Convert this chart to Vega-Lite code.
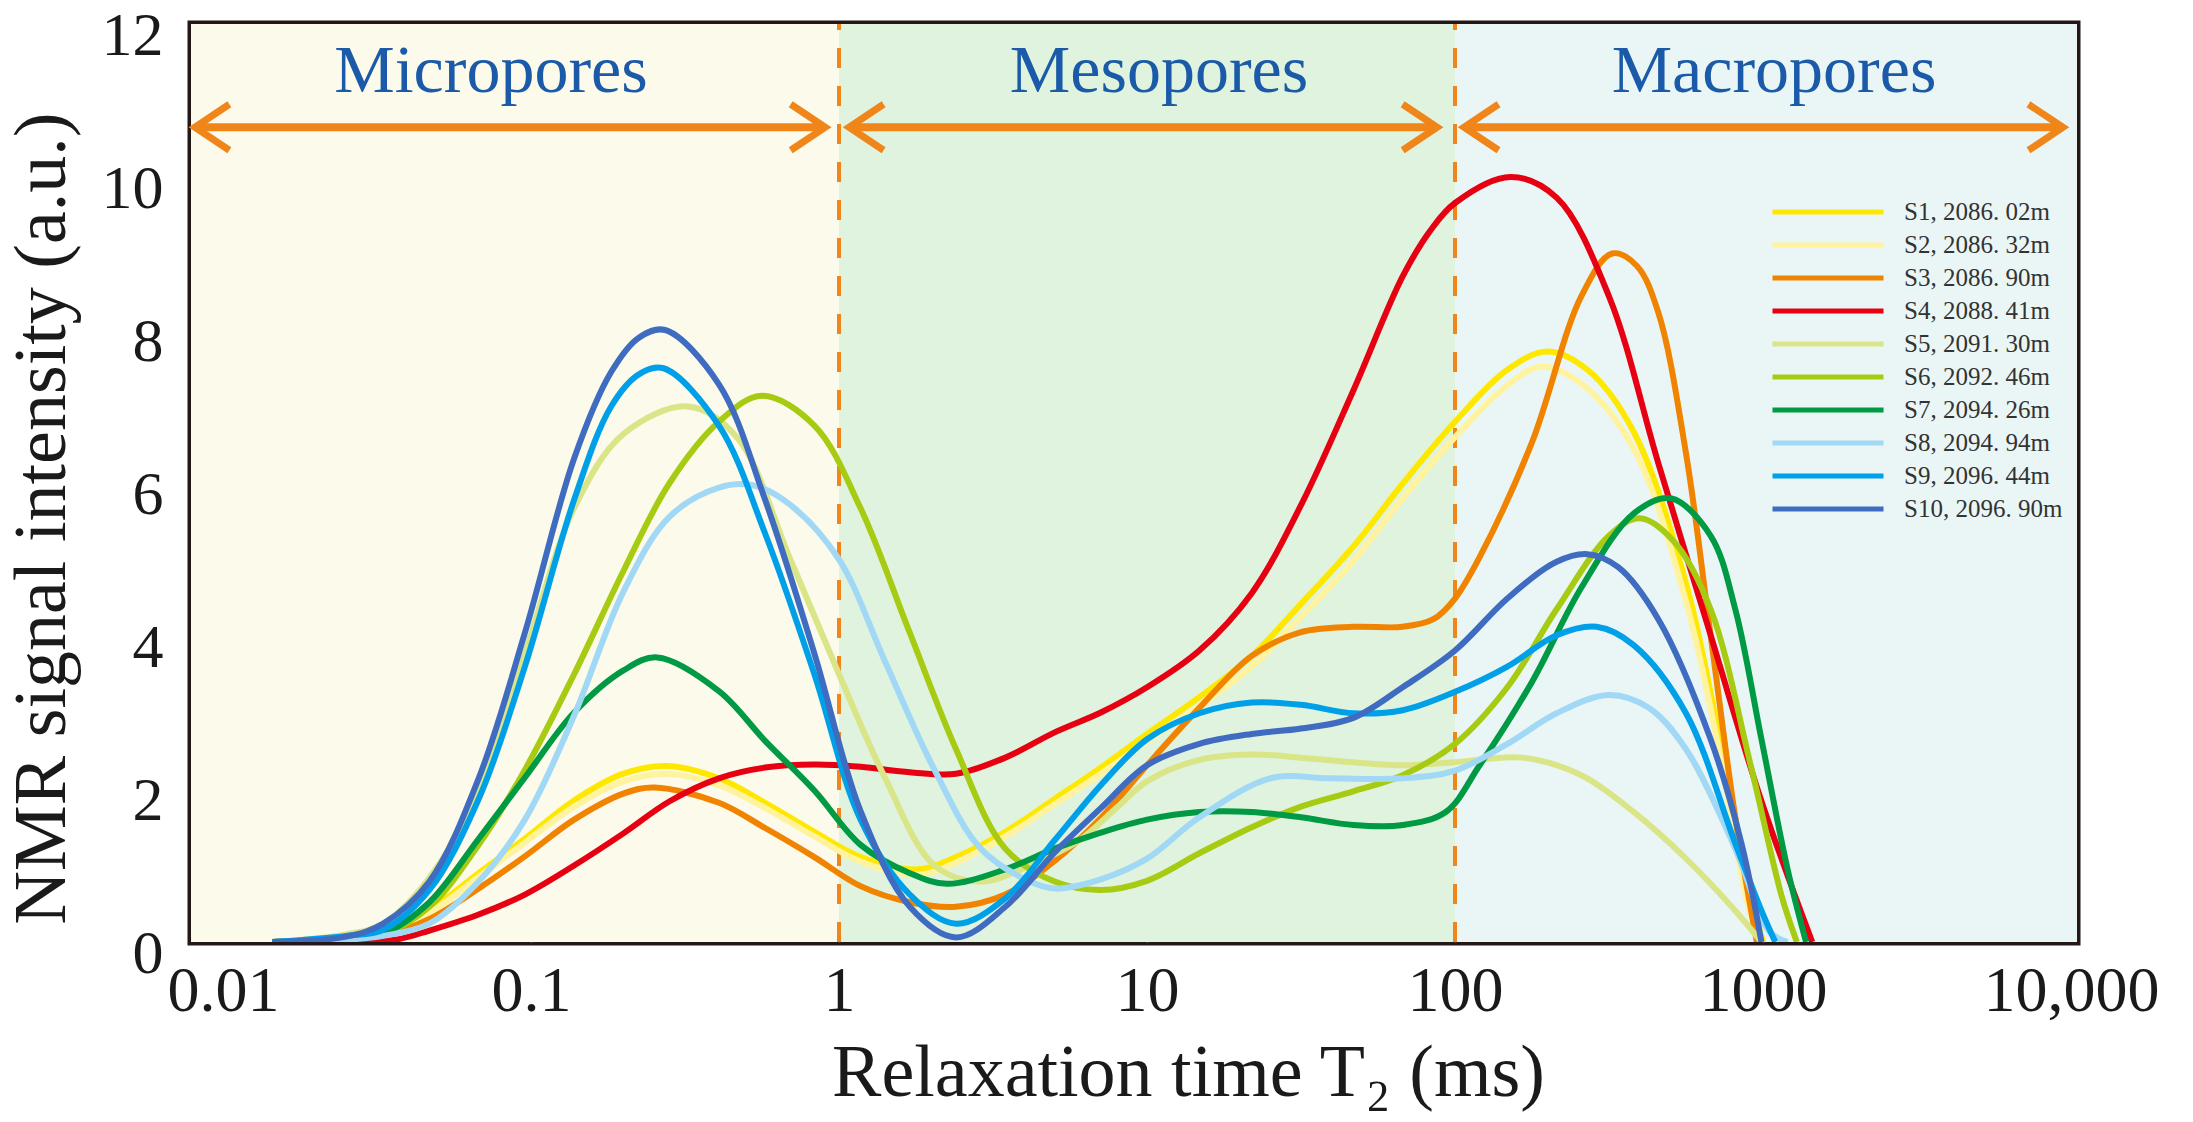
{
  "$schema": "https://vega.github.io/schema/vega-lite/v6.json",
  "width": 1886,
  "height": 918,
  "autosize": {"type": "none"},
  "padding": {"left": 191, "top": 24, "right": 116, "bottom": 180},
  "background": "#ffffff",
  "config": {
    "view": {"stroke": "#231815", "strokeWidth": 7},
    "legend": {
      "orient": "none",
      "legendX": 1623,
      "legendY": 174,
      "title": null,
      "padding": 0,
      "symbolType": "M-5,0H5",
      "symbolSize": 493,
      "symbolStrokeWidth": 5,
      "labelOffset": 62,
      "labelFont": "Liberation Serif",
      "labelFontSize": 25,
      "labelColor": "#333333",
      "labelLimit": 400,
      "rowPadding": 6
    }
  },
  "encoding": {
    "x": {
      "field": "t",
      "type": "quantitative",
      "scale": {"type": "log", "domain": [0.00787, 10460], "nice": false},
      "axis": {
        "orient": "bottom",
        "values": [0.01, 0.1, 1, 10, 100, 1000, 10000],
        "labelExpr": "datum.value < 0.05 ? '0.01' : datum.value < 0.5 ? '0.1' : datum.value < 5 ? '1' : datum.value < 50 ? '10' : datum.value < 500 ? '100' : datum.value < 5000 ? '1000' : '10,000'",
        "labelFont": "Liberation Serif",
        "labelFontSize": 64,
        "labelColor": "#1a1a1a",
        "labelBaseline": "alphabetic",
        "labelPadding": 100,
        "labelFlush": false,
        "labelOverlap": false,
        "labelBound": false,
        "tickSize": -32,
        "tickWidth": 2.5,
        "tickColor": "#595757",
        "tickOpacity": {"condition": {"test": "datum.value < 0.05 || datum.value > 5000", "value": 0}, "value": 1},
        "domain": false,
        "grid": false,
        "title": "Relaxation time T₂ (ms)",
        "titleFont": "Liberation Serif",
        "titleFontSize": 74,
        "titleFontWeight": "normal",
        "titleColor": "#1a1a1a",
        "titleX": 997,
        "titleY": 153,
        "titleBaseline": "alphabetic"
      }
    },
    "y": {
      "field": "v",
      "type": "quantitative",
      "scale": {"domain": [0, 12], "nice": false},
      "axis": {
        "orient": "left",
        "values": [0, 2, 4, 6, 8, 10, 12],
        "labelFont": "Liberation Serif",
        "labelFontSize": 62,
        "labelColor": "#1a1a1a",
        "labelPadding": 60,
        "labelOffset": 11,
        "labelOverlap": false,
        "labelFlush": false,
        "labelBound": false,
        "tickSize": -32,
        "tickWidth": 2.5,
        "tickColor": "#595757",
        "tickOpacity": {"condition": {"test": "datum.value < 1 || datum.value > 11", "value": 0}, "value": 1},
        "domain": false,
        "grid": false,
        "title": "NMR signal intensity (a.u.)",
        "titleFont": "Liberation Serif",
        "titleFontSize": 74,
        "titleFontWeight": "normal",
        "titleColor": "#1a1a1a",
        "titleX": -127,
        "titleY": 494,
        "titleBaseline": "alphabetic"
      }
    }
  },
  "layer": [
    {
      "data": {"values": [
        {"r": "Micropores", "t": 0.00787, "t2": 1, "v": 0, "v2": 12},
        {"r": "Mesopores", "t": 1, "t2": 100, "v": 0, "v2": 12},
        {"r": "Macropores", "t": 100, "t2": 10460, "v": 0, "v2": 12}
      ]},
      "mark": {"type": "rect"},
      "encoding": {
        "x2": {"field": "t2"},
        "y2": {"field": "v2"},
        "fill": {"field": "r", "type": "nominal", "scale": {"domain": ["Micropores", "Mesopores", "Macropores"], "range": ["#FCFAEB", "#E0F3DE", "#EAF6F5"]}, "legend": null}
      }
    },
    {
      "data": {"values": [
        {"t": 1, "v": 0, "v2": 12},
        {"t": 100, "v": 0, "v2": 12}
      ]},
      "mark": {"type": "rule", "color": "#F08519", "strokeWidth": 4, "strokeDash": [20, 18]},
      "encoding": {"y2": {"field": "v2"}}
    },
    {
      "data": {"values": [
        {"t": 0.0081, "t2": 0.902, "v": 10.65},
        {"t": 1.078, "t2": 87.5, "v": 10.65},
        {"t": 107, "t2": 9420, "v": 10.65}
      ]},
      "mark": {"type": "rule", "color": "#F08519", "strokeWidth": 8},
      "encoding": {"x2": {"field": "t2"}}
    },
    {
      "data": {"values": [
        {"t": 0.0081, "v": 10.65, "dir": "left"},
        {"t": 0.902, "v": 10.65, "dir": "right"},
        {"t": 1.078, "v": 10.65, "dir": "left"},
        {"t": 87.5, "v": 10.65, "dir": "right"},
        {"t": 107, "v": 10.65, "dir": "left"},
        {"t": 9420, "v": 10.65, "dir": "right"}
      ]},
      "mark": {"type": "point", "filled": false, "color": "#F08519", "strokeWidth": 7, "size": 2116, "opacity": 1, "strokeJoin": "miter"},
      "encoding": {
        "shape": {"field": "dir", "type": "nominal", "scale": {"domain": ["left", "right"], "range": ["M1.5,-1L0,0L1.5,1", "M-1.5,-1L0,0L-1.5,1"]}, "legend": null}
      }
    },
    {
      "data": {"values": [
        {"s":"S1, 2086. 02m","t":0.01445,"v":0},{"s":"S1, 2086. 02m","t":0.02512,"v":0.05},{"s":"S1, 2086. 02m","t":0.03311,"v":0.11},{"s":"S1, 2086. 02m","t":0.04677,"v":0.42},{"s":"S1, 2086. 02m","t":0.06761,"v":0.9},{"s":"S1, 2086. 02m","t":0.0955,"v":1.35},{"s":"S1, 2086. 02m","t":0.138,"v":1.85},{"s":"S1, 2086. 02m","t":0.1995,"v":2.2},{"s":"S1, 2086. 02m","t":0.2754,"v":2.3},{"s":"S1, 2086. 02m","t":0.4074,"v":2.14},{"s":"S1, 2086. 02m","t":0.5754,"v":1.82},{"s":"S1, 2086. 02m","t":0.8318,"v":1.44},{"s":"S1, 2086. 02m","t":1.175,"v":1.11},{"s":"S1, 2086. 02m","t":1.82,"v":0.95},{"s":"S1, 2086. 02m","t":2.399,"v":1.11},{"s":"S1, 2086. 02m","t":3.467,"v":1.44},{"s":"S1, 2086. 02m","t":5.012,"v":1.87},{"s":"S1, 2086. 02m","t":7.079,"v":2.28},{"s":"S1, 2086. 02m","t":10,"v":2.72},{"s":"S1, 2086. 02m","t":14.79,"v":3.2},{"s":"S1, 2086. 02m","t":21.88,"v":3.74},{"s":"S1, 2086. 02m","t":31.62,"v":4.42},{"s":"S1, 2086. 02m","t":46.77,"v":5.17},{"s":"S1, 2086. 02m","t":67.61,"v":5.99},{"s":"S1, 2086. 02m","t":100,"v":6.8},{"s":"S1, 2086. 02m","t":147.9,"v":7.48},{"s":"S1, 2086. 02m","t":199.5,"v":7.72},{"s":"S1, 2086. 02m","t":269.2,"v":7.48},{"s":"S1, 2086. 02m","t":380.2,"v":6.67},{"s":"S1, 2086. 02m","t":562.3,"v":4.69},{"s":"S1, 2086. 02m","t":724.4,"v":2.65},{"s":"S1, 2086. 02m","t":912,"v":0.61},{"s":"S1, 2086. 02m","t":1000,"v":0},
        {"s":"S2, 2086. 32m","t":0.01445,"v":0},{"s":"S2, 2086. 32m","t":0.02512,"v":0.05},{"s":"S2, 2086. 32m","t":0.03311,"v":0.1},{"s":"S2, 2086. 32m","t":0.04677,"v":0.38},{"s":"S2, 2086. 32m","t":0.06761,"v":0.85},{"s":"S2, 2086. 32m","t":0.0955,"v":1.3},{"s":"S2, 2086. 32m","t":0.138,"v":1.77},{"s":"S2, 2086. 32m","t":0.1995,"v":2.1},{"s":"S2, 2086. 32m","t":0.2754,"v":2.2},{"s":"S2, 2086. 32m","t":0.4074,"v":2.05},{"s":"S2, 2086. 32m","t":0.5754,"v":1.75},{"s":"S2, 2086. 32m","t":0.8318,"v":1.38},{"s":"S2, 2086. 32m","t":1.175,"v":1.05},{"s":"S2, 2086. 32m","t":1.82,"v":0.88},{"s":"S2, 2086. 32m","t":2.399,"v":1.04},{"s":"S2, 2086. 32m","t":3.467,"v":1.38},{"s":"S2, 2086. 32m","t":5.012,"v":1.8},{"s":"S2, 2086. 32m","t":7.079,"v":2.2},{"s":"S2, 2086. 32m","t":10,"v":2.62},{"s":"S2, 2086. 32m","t":14.79,"v":3.08},{"s":"S2, 2086. 32m","t":21.88,"v":3.6},{"s":"S2, 2086. 32m","t":31.62,"v":4.25},{"s":"S2, 2086. 32m","t":46.77,"v":4.98},{"s":"S2, 2086. 32m","t":67.61,"v":5.8},{"s":"S2, 2086. 32m","t":100,"v":6.6},{"s":"S2, 2086. 32m","t":147.9,"v":7.28},{"s":"S2, 2086. 32m","t":190.5,"v":7.52},{"s":"S2, 2086. 32m","t":257,"v":7.3},{"s":"S2, 2086. 32m","t":380.2,"v":6.45},{"s":"S2, 2086. 32m","t":562.3,"v":4.45},{"s":"S2, 2086. 32m","t":724.4,"v":2.45},{"s":"S2, 2086. 32m","t":891.3,"v":0.5},{"s":"S2, 2086. 32m","t":977.2,"v":0},
        {"s":"S3, 2086. 90m","t":0.01445,"v":0},{"s":"S3, 2086. 90m","t":0.02512,"v":0.04},{"s":"S3, 2086. 90m","t":0.03311,"v":0.08},{"s":"S3, 2086. 90m","t":0.04677,"v":0.3},{"s":"S3, 2086. 90m","t":0.06761,"v":0.7},{"s":"S3, 2086. 90m","t":0.0955,"v":1.12},{"s":"S3, 2086. 90m","t":0.138,"v":1.6},{"s":"S3, 2086. 90m","t":0.1995,"v":1.94},{"s":"S3, 2086. 90m","t":0.2512,"v":2.02},{"s":"S3, 2086. 90m","t":0.4074,"v":1.82},{"s":"S3, 2086. 90m","t":0.5754,"v":1.49},{"s":"S3, 2086. 90m","t":0.8318,"v":1.11},{"s":"S3, 2086. 90m","t":1.175,"v":0.73},{"s":"S3, 2086. 90m","t":1.698,"v":0.52},{"s":"S3, 2086. 90m","t":2.399,"v":0.46},{"s":"S3, 2086. 90m","t":3.467,"v":0.62},{"s":"S3, 2086. 90m","t":5.012,"v":1.06},{"s":"S3, 2086. 90m","t":7.079,"v":1.62},{"s":"S3, 2086. 90m","t":10,"v":2.31},{"s":"S3, 2086. 90m","t":14.79,"v":3.06},{"s":"S3, 2086. 90m","t":21.88,"v":3.74},{"s":"S3, 2086. 90m","t":31.62,"v":4.05},{"s":"S3, 2086. 90m","t":46.77,"v":4.12},{"s":"S3, 2086. 90m","t":67.61,"v":4.12},{"s":"S3, 2086. 90m","t":85.11,"v":4.22},{"s":"S3, 2086. 90m","t":100,"v":4.49},{"s":"S3, 2086. 90m","t":120.2,"v":5.03},{"s":"S3, 2086. 90m","t":177.8,"v":6.53},{"s":"S3, 2086. 90m","t":257,"v":8.44},{"s":"S3, 2086. 90m","t":323.6,"v":9.0},{"s":"S3, 2086. 90m","t":389,"v":8.84},{"s":"S3, 2086. 90m","t":457.1,"v":8.23},{"s":"S3, 2086. 90m","t":562.3,"v":6.39},{"s":"S3, 2086. 90m","t":676.1,"v":4.01},{"s":"S3, 2086. 90m","t":812.8,"v":1.63},{"s":"S3, 2086. 90m","t":955,"v":0},
        {"s":"S4, 2088. 41m","t":0.01445,"v":0},{"s":"S4, 2088. 41m","t":0.02512,"v":0},{"s":"S4, 2088. 41m","t":0.03631,"v":0.03},{"s":"S4, 2088. 41m","t":0.04677,"v":0.15},{"s":"S4, 2088. 41m","t":0.06761,"v":0.36},{"s":"S4, 2088. 41m","t":0.0955,"v":0.62},{"s":"S4, 2088. 41m","t":0.138,"v":1.0},{"s":"S4, 2088. 41m","t":0.1995,"v":1.42},{"s":"S4, 2088. 41m","t":0.2818,"v":1.84},{"s":"S4, 2088. 41m","t":0.4074,"v":2.14},{"s":"S4, 2088. 41m","t":0.5754,"v":2.28},{"s":"S4, 2088. 41m","t":0.8318,"v":2.32},{"s":"S4, 2088. 41m","t":1.175,"v":2.29},{"s":"S4, 2088. 41m","t":1.698,"v":2.22},{"s":"S4, 2088. 41m","t":2.399,"v":2.2},{"s":"S4, 2088. 41m","t":3.467,"v":2.41},{"s":"S4, 2088. 41m","t":5.012,"v":2.74},{"s":"S4, 2088. 41m","t":7.079,"v":3.0},{"s":"S4, 2088. 41m","t":10,"v":3.33},{"s":"S4, 2088. 41m","t":14.79,"v":3.81},{"s":"S4, 2088. 41m","t":21.88,"v":4.56},{"s":"S4, 2088. 41m","t":31.62,"v":5.71},{"s":"S4, 2088. 41m","t":46.77,"v":7.21},{"s":"S4, 2088. 41m","t":67.61,"v":8.7},{"s":"S4, 2088. 41m","t":83.18,"v":9.3},{"s":"S4, 2088. 41m","t":100,"v":9.66},{"s":"S4, 2088. 41m","t":151.4,"v":10.0},{"s":"S4, 2088. 41m","t":213.8,"v":9.73},{"s":"S4, 2088. 41m","t":316.2,"v":8.44},{"s":"S4, 2088. 41m","t":457.1,"v":6.26},{"s":"S4, 2088. 41m","t":676.1,"v":4.01},{"s":"S4, 2088. 41m","t":988.6,"v":1.84},{"s":"S4, 2088. 41m","t":1445,"v":0},
        {"s":"S5, 2091. 30m","t":0.01445,"v":0},{"s":"S5, 2091. 30m","t":0.02512,"v":0.1},{"s":"S5, 2091. 30m","t":0.03311,"v":0.24},{"s":"S5, 2091. 30m","t":0.04677,"v":0.84},{"s":"S5, 2091. 30m","t":0.06761,"v":1.98},{"s":"S5, 2091. 30m","t":0.0955,"v":3.77},{"s":"S5, 2091. 30m","t":0.138,"v":5.67},{"s":"S5, 2091. 30m","t":0.1995,"v":6.64},{"s":"S5, 2091. 30m","t":0.3236,"v":7.0},{"s":"S5, 2091. 30m","t":0.4677,"v":6.59},{"s":"S5, 2091. 30m","t":0.6918,"v":5.02},{"s":"S5, 2091. 30m","t":1,"v":3.5},{"s":"S5, 2091. 30m","t":1.413,"v":2.14},{"s":"S5, 2091. 30m","t":2.042,"v":1.0},{"s":"S5, 2091. 30m","t":2.884,"v":0.79},{"s":"S5, 2091. 30m","t":4.169,"v":1.0},{"s":"S5, 2091. 30m","t":6.026,"v":1.33},{"s":"S5, 2091. 30m","t":7.943,"v":1.75},{"s":"S5, 2091. 30m","t":10,"v":2.1},{"s":"S5, 2091. 30m","t":14.79,"v":2.38},{"s":"S5, 2091. 30m","t":21.88,"v":2.45},{"s":"S5, 2091. 30m","t":31.62,"v":2.41},{"s":"S5, 2091. 30m","t":46.77,"v":2.35},{"s":"S5, 2091. 30m","t":67.61,"v":2.31},{"s":"S5, 2091. 30m","t":100,"v":2.35},{"s":"S5, 2091. 30m","t":166,"v":2.41},{"s":"S5, 2091. 30m","t":257,"v":2.18},{"s":"S5, 2091. 30m","t":380.2,"v":1.7},{"s":"S5, 2091. 30m","t":562.3,"v":1.09},{"s":"S5, 2091. 30m","t":812.8,"v":0.41},{"s":"S5, 2091. 30m","t":988.6,"v":0},
        {"s":"S6, 2092. 46m","t":0.01445,"v":0},{"s":"S6, 2092. 46m","t":0.02512,"v":0.05},{"s":"S6, 2092. 46m","t":0.03311,"v":0.1},{"s":"S6, 2092. 46m","t":0.04677,"v":0.46},{"s":"S6, 2092. 46m","t":0.06761,"v":1.27},{"s":"S6, 2092. 46m","t":0.0955,"v":2.25},{"s":"S6, 2092. 46m","t":0.138,"v":3.5},{"s":"S6, 2092. 46m","t":0.1995,"v":4.85},{"s":"S6, 2092. 46m","t":0.2818,"v":6.0},{"s":"S6, 2092. 46m","t":0.4074,"v":6.8},{"s":"S6, 2092. 46m","t":0.5623,"v":7.14},{"s":"S6, 2092. 46m","t":0.8318,"v":6.75},{"s":"S6, 2092. 46m","t":1.175,"v":5.67},{"s":"S6, 2092. 46m","t":1.698,"v":4.04},{"s":"S6, 2092. 46m","t":2.399,"v":2.52},{"s":"S6, 2092. 46m","t":3.467,"v":1.22},{"s":"S6, 2092. 46m","t":5.012,"v":0.79},{"s":"S6, 2092. 46m","t":7.079,"v":0.68},{"s":"S6, 2092. 46m","t":10,"v":0.8},{"s":"S6, 2092. 46m","t":14.79,"v":1.16},{"s":"S6, 2092. 46m","t":21.88,"v":1.5},{"s":"S6, 2092. 46m","t":31.62,"v":1.77},{"s":"S6, 2092. 46m","t":46.77,"v":1.97},{"s":"S6, 2092. 46m","t":67.61,"v":2.18},{"s":"S6, 2092. 46m","t":100,"v":2.59},{"s":"S6, 2092. 46m","t":147.9,"v":3.33},{"s":"S6, 2092. 46m","t":213.8,"v":4.35},{"s":"S6, 2092. 46m","t":316.2,"v":5.31},{"s":"S6, 2092. 46m","t":398.1,"v":5.54},{"s":"S6, 2092. 46m","t":512.9,"v":5.24},{"s":"S6, 2092. 46m","t":676.1,"v":4.35},{"s":"S6, 2092. 46m","t":912,"v":2.31},{"s":"S6, 2092. 46m","t":1148,"v":0.61},{"s":"S6, 2092. 46m","t":1288,"v":0},
        {"s":"S7, 2094. 26m","t":0.01445,"v":0},{"s":"S7, 2094. 26m","t":0.02512,"v":0.05},{"s":"S7, 2094. 26m","t":0.03311,"v":0.11},{"s":"S7, 2094. 26m","t":0.04677,"v":0.52},{"s":"S7, 2094. 26m","t":0.06761,"v":1.35},{"s":"S7, 2094. 26m","t":0.0955,"v":2.15},{"s":"S7, 2094. 26m","t":0.138,"v":3.0},{"s":"S7, 2094. 26m","t":0.1995,"v":3.55},{"s":"S7, 2094. 26m","t":0.257,"v":3.72},{"s":"S7, 2094. 26m","t":0.4074,"v":3.28},{"s":"S7, 2094. 26m","t":0.5754,"v":2.63},{"s":"S7, 2094. 26m","t":0.8318,"v":1.98},{"s":"S7, 2094. 26m","t":1.175,"v":1.27},{"s":"S7, 2094. 26m","t":1.698,"v":0.9},{"s":"S7, 2094. 26m","t":2.239,"v":0.76},{"s":"S7, 2094. 26m","t":3.467,"v":0.95},{"s":"S7, 2094. 26m","t":5.012,"v":1.22},{"s":"S7, 2094. 26m","t":7.079,"v":1.43},{"s":"S7, 2094. 26m","t":10,"v":1.6},{"s":"S7, 2094. 26m","t":14.79,"v":1.7},{"s":"S7, 2094. 26m","t":21.88,"v":1.7},{"s":"S7, 2094. 26m","t":31.62,"v":1.63},{"s":"S7, 2094. 26m","t":46.77,"v":1.53},{"s":"S7, 2094. 26m","t":67.61,"v":1.53},{"s":"S7, 2094. 26m","t":93.33,"v":1.7},{"s":"S7, 2094. 26m","t":120.2,"v":2.31},{"s":"S7, 2094. 26m","t":177.8,"v":3.4},{"s":"S7, 2094. 26m","t":257,"v":4.63},{"s":"S7, 2094. 26m","t":380.2,"v":5.6},{"s":"S7, 2094. 26m","t":501.2,"v":5.8},{"s":"S7, 2094. 26m","t":676.1,"v":5.31},{"s":"S7, 2094. 26m","t":812.8,"v":4.35},{"s":"S7, 2094. 26m","t":988.6,"v":2.65},{"s":"S7, 2094. 26m","t":1202,"v":0.95},{"s":"S7, 2094. 26m","t":1380,"v":0},
        {"s":"S8, 2094. 94m","t":0.01445,"v":0},{"s":"S8, 2094. 94m","t":0.02512,"v":0.03},{"s":"S8, 2094. 94m","t":0.03311,"v":0.08},{"s":"S8, 2094. 94m","t":0.04677,"v":0.24},{"s":"S8, 2094. 94m","t":0.06761,"v":0.79},{"s":"S8, 2094. 94m","t":0.0955,"v":1.6},{"s":"S8, 2094. 94m","t":0.138,"v":2.96},{"s":"S8, 2094. 94m","t":0.1995,"v":4.58},{"s":"S8, 2094. 94m","t":0.2818,"v":5.56},{"s":"S8, 2094. 94m","t":0.4074,"v":5.94},{"s":"S8, 2094. 94m","t":0.5248,"v":5.97},{"s":"S8, 2094. 94m","t":0.6918,"v":5.72},{"s":"S8, 2094. 94m","t":1,"v":5.0},{"s":"S8, 2094. 94m","t":1.413,"v":3.66},{"s":"S8, 2094. 94m","t":2.042,"v":2.25},{"s":"S8, 2094. 94m","t":2.884,"v":1.22},{"s":"S8, 2094. 94m","t":4.169,"v":0.79},{"s":"S8, 2094. 94m","t":5.012,"v":0.7},{"s":"S8, 2094. 94m","t":7.079,"v":0.82},{"s":"S8, 2094. 94m","t":10,"v":1.09},{"s":"S8, 2094. 94m","t":14.79,"v":1.63},{"s":"S8, 2094. 94m","t":25.12,"v":2.14},{"s":"S8, 2094. 94m","t":38.9,"v":2.14},{"s":"S8, 2094. 94m","t":67.61,"v":2.14},{"s":"S8, 2094. 94m","t":100,"v":2.24},{"s":"S8, 2094. 94m","t":147.9,"v":2.59},{"s":"S8, 2094. 94m","t":213.8,"v":2.99},{"s":"S8, 2094. 94m","t":316.2,"v":3.23},{"s":"S8, 2094. 94m","t":426.6,"v":3.06},{"s":"S8, 2094. 94m","t":562.3,"v":2.52},{"s":"S8, 2094. 94m","t":812.8,"v":1.22},{"s":"S8, 2094. 94m","t":1047,"v":0.14},{"s":"S8, 2094. 94m","t":1202,"v":0},
        {"s":"S9, 2096. 44m","t":0.01445,"v":0},{"s":"S9, 2096. 44m","t":0.02512,"v":0.08},{"s":"S9, 2096. 44m","t":0.03311,"v":0.16},{"s":"S9, 2096. 44m","t":0.04677,"v":0.68},{"s":"S9, 2096. 44m","t":0.06761,"v":1.87},{"s":"S9, 2096. 44m","t":0.0955,"v":3.6},{"s":"S9, 2096. 44m","t":0.138,"v":5.78},{"s":"S9, 2096. 44m","t":0.182,"v":7.0},{"s":"S9, 2096. 44m","t":0.2239,"v":7.42},{"s":"S9, 2096. 44m","t":0.2692,"v":7.5},{"s":"S9, 2096. 44m","t":0.4074,"v":6.75},{"s":"S9, 2096. 44m","t":0.5754,"v":5.34},{"s":"S9, 2096. 44m","t":0.8318,"v":3.5},{"s":"S9, 2096. 44m","t":1.175,"v":1.6},{"s":"S9, 2096. 44m","t":1.698,"v":0.62},{"s":"S9, 2096. 44m","t":2.399,"v":0.24},{"s":"S9, 2096. 44m","t":3.467,"v":0.57},{"s":"S9, 2096. 44m","t":5.012,"v":1.33},{"s":"S9, 2096. 44m","t":7.079,"v":2.05},{"s":"S9, 2096. 44m","t":10,"v":2.65},{"s":"S9, 2096. 44m","t":14.79,"v":2.99},{"s":"S9, 2096. 44m","t":21.88,"v":3.13},{"s":"S9, 2096. 44m","t":31.62,"v":3.1},{"s":"S9, 2096. 44m","t":46.77,"v":2.99},{"s":"S9, 2096. 44m","t":67.61,"v":3.03},{"s":"S9, 2096. 44m","t":100,"v":3.27},{"s":"S9, 2096. 44m","t":147.9,"v":3.6},{"s":"S9, 2096. 44m","t":213.8,"v":4.01},{"s":"S9, 2096. 44m","t":288.4,"v":4.12},{"s":"S9, 2096. 44m","t":380.2,"v":3.88},{"s":"S9, 2096. 44m","t":562.3,"v":2.99},{"s":"S9, 2096. 44m","t":812.8,"v":1.29},{"s":"S9, 2096. 44m","t":988.6,"v":0.41},{"s":"S9, 2096. 44m","t":1096,"v":0},
        {"s":"S10, 2096. 90m","t":0.01445,"v":0},{"s":"S10, 2096. 90m","t":0.02512,"v":0.07},{"s":"S10, 2096. 90m","t":0.03311,"v":0.24},{"s":"S10, 2096. 90m","t":0.04677,"v":0.79},{"s":"S10, 2096. 90m","t":0.06761,"v":2.14},{"s":"S10, 2096. 90m","t":0.0955,"v":4.04},{"s":"S10, 2096. 90m","t":0.138,"v":6.32},{"s":"S10, 2096. 90m","t":0.182,"v":7.45},{"s":"S10, 2096. 90m","t":0.2239,"v":7.9},{"s":"S10, 2096. 90m","t":0.2723,"v":8.0},{"s":"S10, 2096. 90m","t":0.4074,"v":7.29},{"s":"S10, 2096. 90m","t":0.5754,"v":5.78},{"s":"S10, 2096. 90m","t":0.8318,"v":3.77},{"s":"S10, 2096. 90m","t":1.175,"v":1.71},{"s":"S10, 2096. 90m","t":1.698,"v":0.46},{"s":"S10, 2096. 90m","t":2.399,"v":0.06},{"s":"S10, 2096. 90m","t":3.467,"v":0.46},{"s":"S10, 2096. 90m","t":5.012,"v":1.17},{"s":"S10, 2096. 90m","t":7.079,"v":1.75},{"s":"S10, 2096. 90m","t":10,"v":2.31},{"s":"S10, 2096. 90m","t":14.79,"v":2.59},{"s":"S10, 2096. 90m","t":21.88,"v":2.72},{"s":"S10, 2096. 90m","t":31.62,"v":2.79},{"s":"S10, 2096. 90m","t":46.77,"v":2.93},{"s":"S10, 2096. 90m","t":67.61,"v":3.33},{"s":"S10, 2096. 90m","t":100,"v":3.81},{"s":"S10, 2096. 90m","t":147.9,"v":4.49},{"s":"S10, 2096. 90m","t":213.8,"v":4.97},{"s":"S10, 2096. 90m","t":269.2,"v":5.07},{"s":"S10, 2096. 90m","t":338.8,"v":4.9},{"s":"S10, 2096. 90m","t":457.1,"v":4.22},{"s":"S10, 2096. 90m","t":676.1,"v":2.65},{"s":"S10, 2096. 90m","t":851.1,"v":1.29},{"s":"S10, 2096. 90m","t":988.6,"v":0}
      ]},
      "mark": {"type": "line", "interpolate": "catmull-rom", "strokeWidth": 6, "clip": true},
      "encoding": {
        "color": {
          "field": "s",
          "type": "nominal",
          "scale": {
            "domain": ["S1, 2086. 02m", "S2, 2086. 32m", "S3, 2086. 90m", "S4, 2088. 41m", "S5, 2091. 30m", "S6, 2092. 46m", "S7, 2094. 26m", "S8, 2094. 94m", "S9, 2096. 44m", "S10, 2096. 90m"],
            "range": ["#FFE800", "#FFF3A0", "#F08300", "#E60012", "#D9E586", "#A6CB12", "#009944", "#A0D8F5", "#00A0E9", "#3F6CC0"]
          }
        }
      }
    },
    {
      "data": {"values": [
        {"label": "Micropores", "t": 0.0741, "v": 11.11},
        {"label": "Mesopores", "t": 10.94, "v": 11.11},
        {"label": "Macropores", "t": 1086, "v": 11.11}
      ]},
      "mark": {"type": "text", "font": "Liberation Serif", "fontSize": 68, "color": "#1A5AA8", "align": "center", "baseline": "alphabetic"},
      "encoding": {"text": {"field": "label"}}
    }
  ]
}
